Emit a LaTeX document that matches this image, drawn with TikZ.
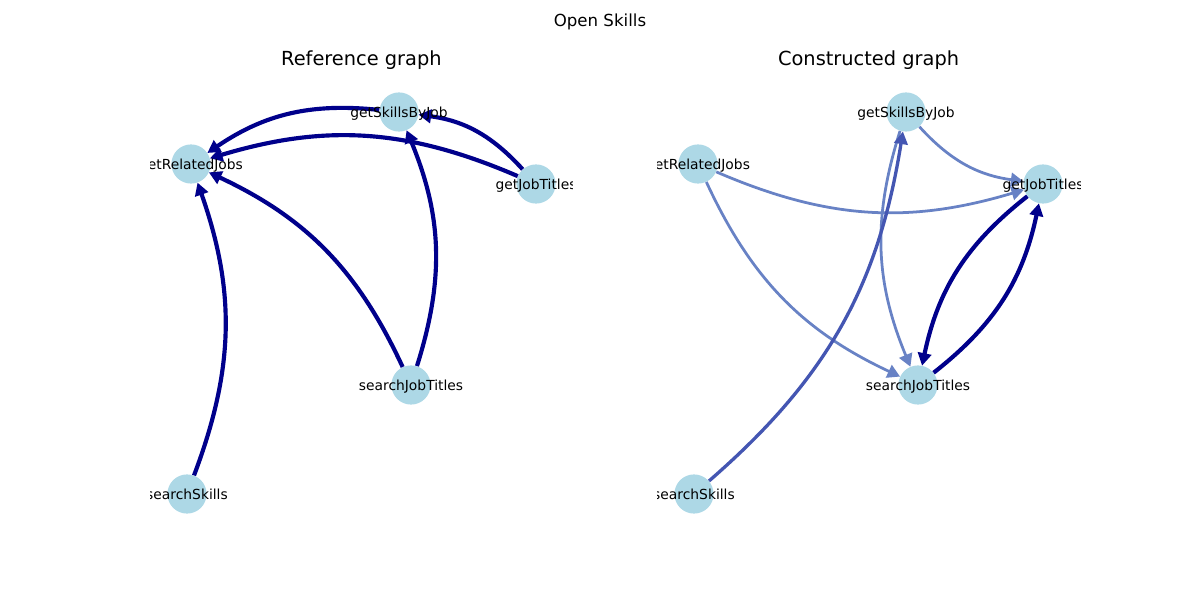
\documentclass[tikz,border=0pt]{standalone}
\usepackage{fontspec}
\setmainfont{DejaVu Sans}
\usepackage{xcolor}
\usetikzlibrary{arrows.meta}

\definecolor{nodeblue}{RGB}{173,216,230}
\definecolor{navyedge}{RGB}{0,0,139}
\definecolor{midedge}{RGB}{68,86,178}
\definecolor{lightedge}{RGB}{104,130,197}

\tikzset{
  vertex/.style={circle, fill=nodeblue, minimum size=28.3pt, inner sep=0pt},
  vlabel/.style={font=\fontsize{10}{12}\selectfont, inner sep=0pt, text height=0.76em, text depth=0em},
  edgebase/.style={bend right=20, -{Triangle[length=9pt,width=10pt,line width=1.5pt]}},
  navyarc/.style={edgebase, draw=navyedge, line width=3pt},
  midarc/.style={edgebase, draw=midedge, line width=2.4pt},
  lightarc/.style={edgebase, draw=lightedge, line width=2pt}
}

\begin{document}
\begin{tikzpicture}[x=0.01in, y=-0.01in]
\useasboundingbox (0,0) rectangle (1200,600);

% Titles
\node[font=\fontsize{12}{14}\selectfont, inner sep=0pt, anchor=base] (suptitle) at (600,26.5) {Open Skills};
\node[font=\fontsize{14}{17}\selectfont, inner sep=0pt, anchor=base] (reftitle) at (361.4,65.5) {Reference graph};
\node[font=\fontsize{14}{17}\selectfont, inner sep=0pt, anchor=base] (contitle) at (868.6,65.5) {Constructed graph};

% Reference graph
\begin{scope}
\clip (150,72) rectangle (572.7,534);
% nodes
\node[vertex] (refRelated) at (191,164) {};
\node[vertex] (refSkills) at (399,112) {};
\node[vertex] (refTitles) at (536,184) {};
\node[vertex] (refSearchT) at (411,385) {};
\node[vertex] (refSearchS) at (187,494) {};
% edges
\draw[navyarc] (refSkills) to (refRelated);
\draw[navyarc] (refTitles) to (refRelated);
\draw[navyarc] (refTitles) to (refSkills);
\draw[navyarc] (refSearchT) to (refSkills);
\draw[navyarc] (refSearchT) to (refRelated);
\draw[navyarc] (refSearchS) to (refRelated);
% labels
\node[vlabel] (refRelatedTxt) at (refRelated) {getRelatedJobs};
\node[vlabel] (refSkillsTxt) at (refSkills) {getSkillsByJob};
\node[vlabel] (refTitlesTxt) at (refTitles) {getJobTitles};
\node[vlabel] (refSearchTTxt) at (refSearchT) {searchJobTitles};
\node[vlabel] (refSearchSTxt) at (refSearchS) {searchSkills};
\end{scope}

% Constructed graph
\begin{scope}
\clip (657.3,72) rectangle (1080,534);
% nodes
\node[vertex] (conRelated) at (698,164) {};
\node[vertex] (conSkills) at (906,112) {};
\node[vertex] (conTitles) at (1043,184) {};
\node[vertex] (conSearchT) at (918,385) {};
\node[vertex] (conSearchS) at (694,494) {};
% edges
\draw[lightarc] (conRelated) to (conTitles);
\draw[lightarc] (conRelated) to (conSearchT);
\draw[lightarc] (conSkills) to (conTitles);
\draw[lightarc] (conSkills) to (conSearchT);
\draw[midarc] (conSearchS) to (conSkills);
\draw[navyarc] (conSearchT) to (conTitles);
\draw[navyarc] (conTitles) to (conSearchT);
% labels
\node[vlabel] (conRelatedTxt) at (conRelated) {getRelatedJobs};
\node[vlabel] (conSkillsTxt) at (conSkills) {getSkillsByJob};
\node[vlabel] (conTitlesTxt) at (conTitles) {getJobTitles};
\node[vlabel] (conSearchTTxt) at (conSearchT) {searchJobTitles};
\node[vlabel] (conSearchSTxt) at (conSearchS) {searchSkills};
\end{scope}
\end{tikzpicture}
\end{document}
